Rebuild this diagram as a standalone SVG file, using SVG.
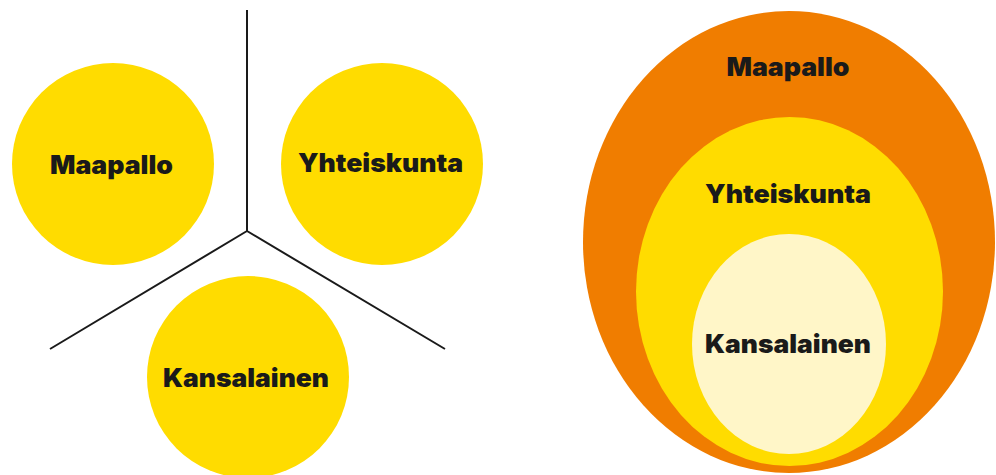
<svg xmlns="http://www.w3.org/2000/svg" width="996" height="475" viewBox="0 0 996 475">
<style>
.lbl{font-family:Inter,"Noto Sans","Liberation Sans",sans-serif;font-weight:900;font-size:26px;fill:#1a1a1a;text-anchor:middle}
.yel{fill:#FFDC00}
.line{stroke:#1a1a1a;stroke-width:2;fill:none}
</style>
<rect width="996" height="475" fill="#ffffff"/>
<g id="connectors">
<path class="line" d="M247 10 V231 M247 231 L50 349 M247 231 L445 349"/>
</g>
<g id="maapallo-left">
<circle class="yel" cx="113" cy="164" r="101"/>
<text class="lbl" x="111.5" y="174" textLength="123" lengthAdjust="spacingAndGlyphs">Maapallo</text>
</g>
<g id="yhteiskunta-left">
<circle class="yel" cx="382" cy="164" r="101"/>
<text class="lbl" x="380.5" y="172" textLength="165" lengthAdjust="spacingAndGlyphs">Yhteiskunta</text>
</g>
<g id="kansalainen-left">
<circle class="yel" cx="248" cy="377" r="101"/>
<text class="lbl" x="246" y="387" textLength="166" lengthAdjust="spacingAndGlyphs">Kansalainen</text>
</g>
<g id="maapallo-right">
<ellipse cx="789" cy="242" rx="206" ry="231" fill="#F07D00"/>
<text class="lbl" x="788" y="76" textLength="123" lengthAdjust="spacingAndGlyphs">Maapallo</text>
</g>
<g id="yhteiskunta-right">
<ellipse class="yel" cx="789.5" cy="291.5" rx="153.5" ry="174.5"/>
<text class="lbl" x="788" y="203" textLength="166" lengthAdjust="spacingAndGlyphs">Yhteiskunta</text>
</g>
<g id="kansalainen-right">
<ellipse cx="789" cy="344" rx="97" ry="110" fill="#FFF6C8"/>
<text class="lbl" x="788" y="353" textLength="166" lengthAdjust="spacingAndGlyphs">Kansalainen</text>
</g>
</svg>
